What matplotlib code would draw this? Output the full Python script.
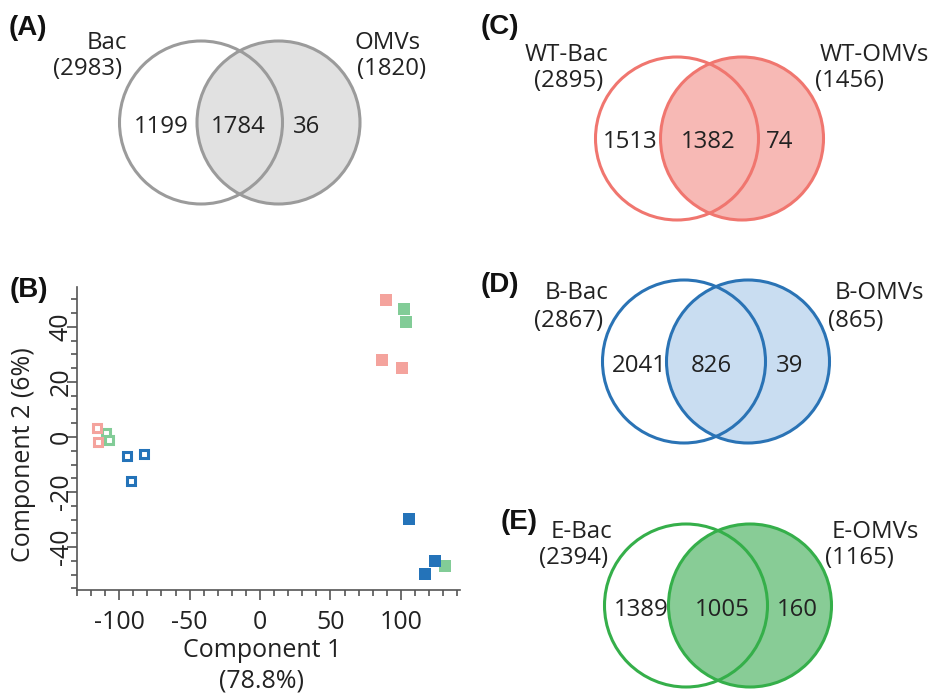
import matplotlib
matplotlib.use("Agg")
import matplotlib.pyplot as plt
from matplotlib.patches import Circle
from matplotlib.ticker import MultipleLocator

plt.rcParams['font.family'] = ['Open Sans', 'DejaVu Sans']
plt.rcParams['axes.unicode_minus'] = False

# ---------------- data ----------------
venn_panels = ["(A)", "(C)", "(D)", "(E)"]
venn_left_names = ["Bac", "WT-Bac", "B-Bac", "E-Bac"]
venn_right_names = ["OMVs", "WT-OMVs", "B-OMVs", "E-OMVs"]
venn_left_totals = [2983, 2895, 2867, 2394]
venn_right_totals = [1820, 1456, 865, 1165]
venn_left_only = [1199, 1513, 2041, 1389]
venn_shared = [1784, 1382, 826, 1005]
venn_right_only = [36, 74, 39, 160]

pca_groups = ["WT-Bac", "E-Bac", "B-Bac", "WT-OMVs", "E-OMVs", "B-OMVs"]
pca_x = {
    "E-Bac": [-109.4, -107.6],
    "WT-Bac": [-115.8, -115.0],
    "B-Bac": [-94.5, -82.7, -91.7],
    "WT-OMVs": [89.1, 86.3, 100.5],
    "E-OMVs": [102.4, 104.0, 131.2],
    "B-OMVs": [105.9, 124.6, 117.0],
}
pca_y = {
    "E-Bac": [1.3, -1.1],
    "WT-Bac": [3.2, -1.9],
    "B-Bac": [-6.9, -6.3, -15.9],
    "WT-OMVs": [49.8, 28.0, 25.0],
    "E-OMVs": [46.5, 41.7, -46.8],
    "B-OMVs": [-29.9, -45.0, -49.8],
}
x_ticks = [-100, -50, 0, 50, 100]
y_ticks = [-40, -20, 0, 20, 40]

# ---------------- styles ----------------
W, H = 941, 698
fig = plt.figure(figsize=(W / 100, H / 100), dpi=100)

PINK, GREEN, BLUE = "#F4A39D", "#82CC97", "#2473B9"
venn_edge = ["#9B9B9B", "#F0766F", "#2A73B5", "#35AF4A"]
venn_fill = ["#E1E1E1", "#F7B9B5", "#C9DDF1", "#88CC96"]
# layout (pixels): left centre, right centre, radius
venn_lc = [(201, 122.5), (677, 138.5), (684, 361.5), (686, 605.5)]
venn_rc = [(278.5, 122.5), (742, 138.5), (748, 361.5), (750, 605.5)]
venn_r = 81.5
panel_pos = [(9, 28), (481, 27), (481, 285), (501, 522)]
lname_pos = [(127, 43), (608, 55), (608, 293), (612, 532)]
ltot_pos = [(122, 69), (603, 81), (603, 321), (608, 558)]
rname_pos = [(355, 43), (820, 55), (835, 293), (832, 532)]
rtot_pos = [(357, 69), (815, 81), (828, 321), (825, 558)]
num_y = [127, 142, 366, 610]
num_x = [(161, 238, 307), (630, 708, 780), (639, 711, 790), (641, 722, 797)]

ov = fig.add_axes([0, 0, 1, 1])
ov.set_xlim(0, W)
ov.set_ylim(H, 0)
ov.axis('off')

FS = 17.3
PFS = 20
TXT = '#222222'
for i in range(4):
    ov.add_patch(Circle(venn_rc[i], venn_r, facecolor=venn_fill[i], edgecolor='none', zorder=1))
    ov.add_patch(Circle(venn_lc[i], venn_r, facecolor='none', edgecolor=venn_edge[i], lw=2.2, zorder=2))
    ov.add_patch(Circle(venn_rc[i], venn_r, facecolor='none', edgecolor=venn_edge[i], lw=2.2, zorder=2))
    ov.text(*panel_pos[i], venn_panels[i], family='Liberation Sans', weight='bold',
            fontsize=PFS, ha='left', va='center', color='#111111')
    ov.text(*lname_pos[i], venn_left_names[i], fontsize=FS, ha='right', va='center', color=TXT)
    ov.text(*ltot_pos[i], f"({venn_left_totals[i]})", fontsize=FS, ha='right', va='center', color=TXT)
    ov.text(*rname_pos[i], venn_right_names[i], fontsize=FS, ha='left', va='center', color=TXT)
    ov.text(*rtot_pos[i], f"({venn_right_totals[i]})", fontsize=FS, ha='left', va='center', color=TXT)
    for xx, v in zip(num_x[i], [venn_left_only[i], venn_shared[i], venn_right_only[i]]):
        ov.text(xx, num_y[i], str(v), fontsize=FS, ha='center', va='center', color=TXT, zorder=3)

ov.text(10, 290, "(B)", family='Liberation Sans', weight='bold', fontsize=PFS,
        ha='left', va='center', color='#111111')

# ---------------- PCA scatter ----------------
ax = fig.add_axes([77 / W, 1 - 590 / H, 383 / W, 303 / H])
ax.set_xlim(-130, 142)
ax.set_ylim(-55.6, 54.5)
for s in ['top', 'right']:
    ax.spines[s].set_visible(False)
for s in ['left', 'bottom']:
    ax.spines[s].set_color('#555555')
    ax.spines[s].set_linewidth(1.2)
ax.set_xticks(x_ticks)
ax.set_yticks(y_ticks)
ax.xaxis.set_minor_locator(MultipleLocator(10))
ax.yaxis.set_minor_locator(MultipleLocator(5))
ax.tick_params(which='major', length=7, width=1.2, color='#555555', labelsize=18, labelcolor=TXT)
ax.tick_params(axis='y', which='major', pad=-4.5)
ax.tick_params(axis='x', which='major', pad=7.5)
ax.tick_params(which='minor', length=4, width=1.2, color='#555555')
for lab in ax.get_yticklabels():
    lab.set_rotation(90)
    lab.set_va('center')

open_style = dict(marker='s', ms=5.8, mfc='white', mew=2.2, ls='none')
fill_style = dict(marker='s', ms=8.8, mew=0, ls='none')
colors = {"WT-Bac": PINK, "E-Bac": GREEN, "B-Bac": BLUE,
          "WT-OMVs": PINK, "E-OMVs": GREEN, "B-OMVs": BLUE}
for g in ["E-Bac", "WT-Bac", "B-Bac"]:
    ax.plot(pca_x[g], pca_y[g], mec=colors[g], **open_style)
for g in ["WT-OMVs", "E-OMVs", "B-OMVs"]:
    ax.plot(pca_x[g], pca_y[g], mfc=colors[g], **fill_style)

ax.set_xlabel("Component 1\n(78.8%)", fontsize=18, color=TXT, linespacing=1.3)
ax.set_ylabel("Component 2 (6%)", fontsize=18, color=TXT)

# place labels at measured pixel positions
ax.xaxis.set_label_coords((262 - 77) / 383, -(666 - 590) / 303)
ax.xaxis.label.set_va('center')
ax.yaxis.set_label_coords(-(77 - 23) / 383, (590 - 455) / 303)
ax.yaxis.label.set_va('center')

fig.savefig("out.png", dpi=100)
